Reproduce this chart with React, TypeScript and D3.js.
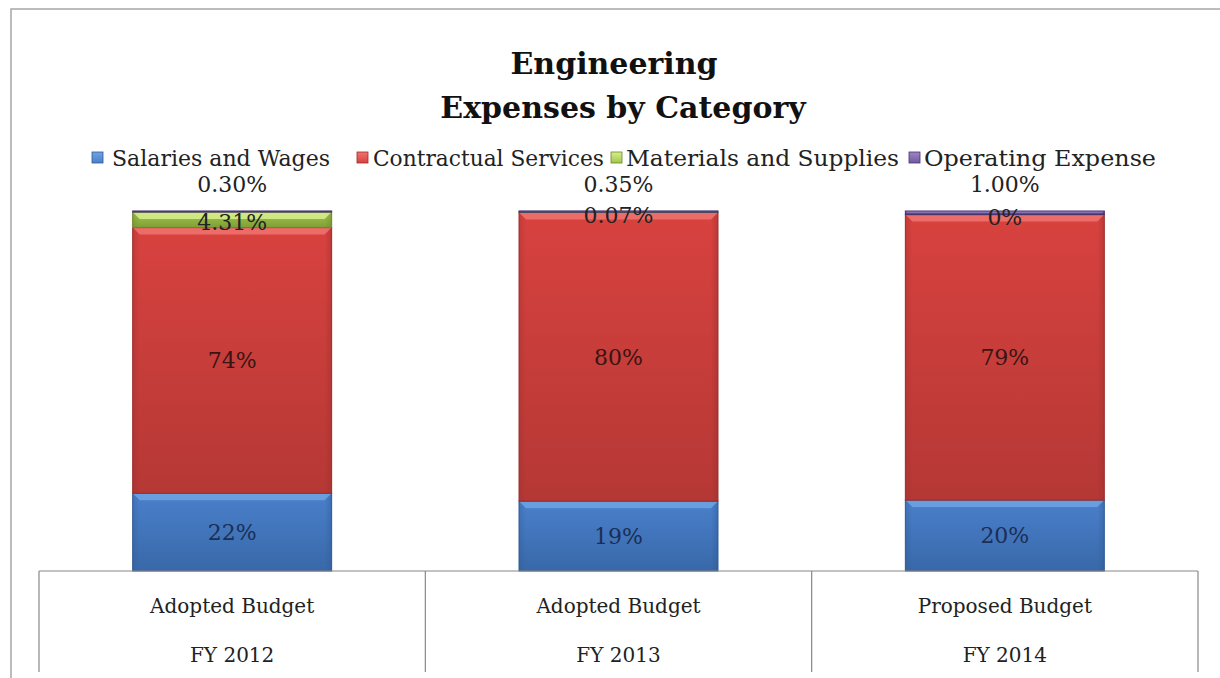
import React from "react";
import * as d3 from "d3";

const categoryLine1 = ["Adopted Budget", "Adopted Budget", "Proposed Budget"];
const categoryLine2 = ["FY 2012", "FY 2013", "FY 2014"];
const seriesNames = ["Salaries and Wages", "Contractual Services", "Materials and Supplies", "Operating Expense"];
const salaries = [21.6, 19.4, 19.7];
const contractual = [73.8, 80.2, 79.3];
const materials = [4.31, 0.07, 0];
const operating = [0.3, 0.35, 1.0];
const salariesLabels = ["22%", "19%", "20%"];
const contractualLabels = ["74%", "80%", "79%"];
const materialsLabels = ["4.31%", "0.07%", "0%"];
const operatingLabels = ["0.30%", "0.35%", "1.00%"];

const W = 1220;
const H = 678;
const FONT = "'DejaVu Serif', 'Liberation Serif', serif";

const colors = [
  { light: "#6fa3e3", mid: "#4a80cb", dark: "#3868a8", edge: "#2f5a94", label: "#1b2e55" },
  { light: "#f07470", mid: "#d8423f", dark: "#b53835", edge: "#9a2e2c", label: "#3a1414" },
  { light: "#d8ee8c", mid: "#a2c64c", dark: "#7f9f36", edge: "#6a862b", label: "#2a3312" },
  { light: "#9d86c4", mid: "#7259a2", dark: "#56408a", edge: "#45336f", label: "#222" },
];

export default function App() {
  const margin = { left: 39, right: 1198, top: 211, bottom: 571 };
  const x = d3.scaleBand<number>().domain([0, 1, 2]).range([margin.left, margin.right]).paddingInner(0).paddingOuter(0);
  const y = d3.scaleLinear().domain([0, 100]).range([margin.bottom, margin.top]);
  const barW = x.bandwidth() * 0.515;

  const rows = categoryLine1.map((_, i) => ({
    i,
    s0: salaries[i],
    s1: contractual[i],
    s2: materials[i],
    s3: operating[i],
  }));
  const stack = d3.stack<any>().keys(["s0", "s1", "s2", "s3"]);
  const stacked = stack(rows);
  const seriesLabels = [salariesLabels, contractualLabels, materialsLabels, operatingLabels];

  const legendItems = [
    { mx: 92, tx: 112, len: 218 },
    { mx: 357, tx: 373, len: 231 },
    { mx: 611, tx: 626, len: 273 },
    { mx: 909, tx: 924, len: 232 },
  ];

  return (
    <svg width={W} height={H} style={{ position: "absolute", left: 0, top: 0, background: "#fff" }}>
      <defs>
        {colors.map((c, k) => (
          <linearGradient key={k} id={`g${k}`} x1="0" y1="0" x2="0" y2="1">
            <stop offset="0" stopColor={c.mid} />
            <stop offset="1" stopColor={c.dark} />
          </linearGradient>
        ))}
        {colors.map((c, k) => (
          <linearGradient key={"h" + k} id={`h${k}`} x1="0" y1="0" x2="0" y2="1">
            <stop offset="0" stopColor={c.light} />
            <stop offset="1" stopColor={c.mid} />
          </linearGradient>
        ))}
        {colors.map((c, k) => (
          <linearGradient key={"s" + k} id={`s${k}`} x1="0" y1="0" x2="1" y2="0">
            <stop offset="0" stopColor={c.edge} stopOpacity={0.35} />
            <stop offset="0.035" stopColor={c.edge} stopOpacity={0} />
            <stop offset="0.965" stopColor={c.edge} stopOpacity={0} />
            <stop offset="1" stopColor={c.edge} stopOpacity={0.45} />
          </linearGradient>
        ))}
      </defs>
      {/* outer chart border */}
      <path d={`M11,${H} L11,9 L${W},9`} fill="none" stroke="#a6a6a6" strokeWidth={1.5} />

      {/* title */}
      <text x={614} y={74} textAnchor="middle" fontFamily={FONT} fontWeight="bold" fontSize={30} fill="#111">
        Engineering
      </text>
      <text x={623} y={118} textAnchor="middle" fontFamily={FONT} fontWeight="bold" fontSize={30} fill="#111">
        Expenses by Category
      </text>

      {/* legend */}
      {seriesNames.map((name, k) => (
        <g key={name}>
          <rect x={legendItems[k].mx} y={152} width={11} height={11} fill={`url(#h${k})`} stroke={colors[k].edge} strokeWidth={0.8} />
          <text
            x={legendItems[k].tx}
            y={166}
            fontFamily={FONT}
            fontSize={22}
            fill="#222"
            textLength={legendItems[k].len}
            lengthAdjust="spacingAndGlyphs"
          >
            {name}
          </text>
        </g>
      ))}

      {/* bars */}
      {stacked.map((layer, k) =>
        layer.map((d, i) => {
          const x0 = (x(i) as number) + (x.bandwidth() - barW) / 2;
          const yTop = y(d[1]);
          const yBot = y(d[0]);
          const h = yBot - yTop;
          if (h <= 0.01) return null;
          const bev = Math.min(7, h / 2);
          return (
            <g key={`${k}-${i}`}>
              <rect x={x0} y={yTop} width={barW} height={h} fill={`url(#g${k})`} />
              <rect x={x0} y={yTop} width={barW} height={h} fill={`url(#s${k})`} />
              <path
                d={`M${x0},${yTop} L${x0 + barW},${yTop} L${x0 + barW - bev},${yTop + bev} L${x0 + bev},${yTop + bev} Z`}
                fill={colors[k].light}
                opacity={0.85}
              />
              <rect x={x0} y={yTop} width={barW} height={h} fill="none" stroke={colors[k].edge} strokeWidth={1} />
            </g>
          );
        })
      )}

      {/* data labels */}
      {stacked.map((layer, k) =>
        layer.map((d, i) => {
          const cx = (x(i) as number) + x.bandwidth() / 2;
          let cy = (y(d[0]) + y(d[1])) / 2;
          let fill = colors[k].label;
          if (k === 3) {
            cy = y(100) - 27;
            fill = "#222";
          } else if (k === 2) {
            cy = Math.max(cy + 2, y(100) + 4);
            fill = "#222";
          }
          return (
            <text
              key={`l${k}-${i}`}
              x={cx}
              y={cy}
              dy="0.36em"
              textAnchor="middle"
              fontFamily={FONT}
              fontSize={22}
              fill={fill}
            >
              {seriesLabels[k][i]}
            </text>
          );
        })
      )}

      {/* category axis table */}
      <line x1={margin.left} x2={margin.right} y1={margin.bottom} y2={margin.bottom} stroke="#888" strokeWidth={1.2} />
      {[0, 1, 2, 3].map((j) => {
        const xx = j < 3 ? (x(j) as number) : margin.right;
        return <line key={j} x1={xx} x2={xx} y1={margin.bottom} y2={672} stroke="#888" strokeWidth={1.2} />;
      })}
      {categoryLine1.map((c, i) => (
        <g key={c + i}>
          <text x={(x(i) as number) + x.bandwidth() / 2} y={613} textAnchor="middle" fontFamily={FONT} fontSize={20} fill="#222">
            {c}
          </text>
          <text x={(x(i) as number) + x.bandwidth() / 2} y={662} textAnchor="middle" fontFamily={FONT} fontSize={20} fill="#222">
            {categoryLine2[i]}
          </text>
        </g>
      ))}
    </svg>
  );
}
